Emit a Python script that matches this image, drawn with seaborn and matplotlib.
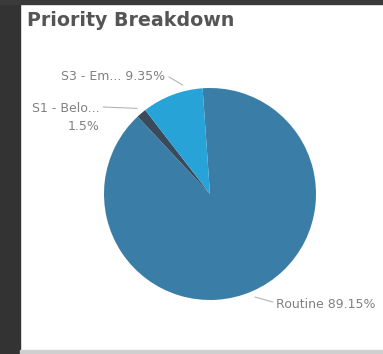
import matplotlib
matplotlib.use("Agg")
import matplotlib.pyplot as plt
import seaborn as sns
import numpy as np
from matplotlib.patches import Rectangle

sns.set_theme(style="white")
plt.rcParams['font.family'] = ['Segoe UI', 'DejaVu Sans']

categories = ["Routine", "S1 - Belo...", "S3 - Em..."]
values = [89.15, 1.5, 9.35]
value_labels = ["89.15%", "1.5%", "9.35%"]
colors = ["#3a7ea7", "#394a5c", "#27a3d8"]

W, H = 383, 354
fig = plt.figure(figsize=(W / 100, H / 100), dpi=100)
fig.patch.set_facecolor("white")

# panel frame
fig.patches.append(Rectangle((0, 0), 20 / W, 1, transform=fig.transFigure, color="#333333", zorder=0))
fig.patches.append(Rectangle((0, 1 - 4 / H), 1, 4 / H, transform=fig.transFigure, color="#3a3a3a", zorder=0))
fig.patches.append(Rectangle((20 / W, 0), 1, 4 / H, transform=fig.transFigure, color="#cfcfcf", zorder=0))

fig.text(27 / W, 1 - 21 / H, "Priority Breakdown", fontsize=13.7, fontweight="bold",
         color="#555555", va="center", ha="left")

cx, cy, r = 210, 194, 106
ax = fig.add_axes([(cx - r) / W, (H - cy - r) / H, 2 * r / W, 2 * r / H])
wedges, _ = ax.pie(values, colors=colors, startangle=94, counterclock=False,
                   wedgeprops=dict(linewidth=0))
ax.set_xlim(-1, 1)
ax.set_ylim(-1, 1)
ax.set_aspect("equal")
ax.axis("off")

lab_color = "#808080"
fs = 9
# text positions (pixels) per category
text_pos = {
    "S3 - Em...": (165, 77, "right", "{} {}"),
    "S1 - Belo...": (100, 102, "right", "{}\n{}"),
    "Routine": (276, 304, "left", "{} {}"),
}
line_end = {
    "S3 - Em...": (169, 77),
    "S1 - Belo...": (103, 107),
    "Routine": (273, 302),
}
anchor_frac = {"S3 - Em...": 0.3, "S1 - Belo...": 0.5, "Routine": 0.5}
for w, cat, vl in zip(wedges, categories, value_labels):
    ang = np.deg2rad(w.theta1 + anchor_frac[cat] * (w.theta2 - w.theta1))
    ex, ey = 1.06 * np.cos(ang), 1.06 * np.sin(ang)
    tx, ty, ha, fmt = text_pos[cat]
    lx, ly = line_end[cat]
    ax.annotate("", xy=(ex, ey), xycoords="data",
                xytext=(lx / W, 1 - ly / H), textcoords="figure fraction",
                annotation_clip=False,
                arrowprops=dict(arrowstyle="-", color="#b5b5b5", lw=0.8,
                                shrinkA=0, shrinkB=0))
    fig.text(tx / W, 1 - ty / H, fmt.format(cat, vl), fontsize=fs, color=lab_color,
             ha=ha, va="top" if "\n" in fmt else "center", multialignment="right",
             linespacing=1.5)

fig.savefig("out.png", dpi=100)
